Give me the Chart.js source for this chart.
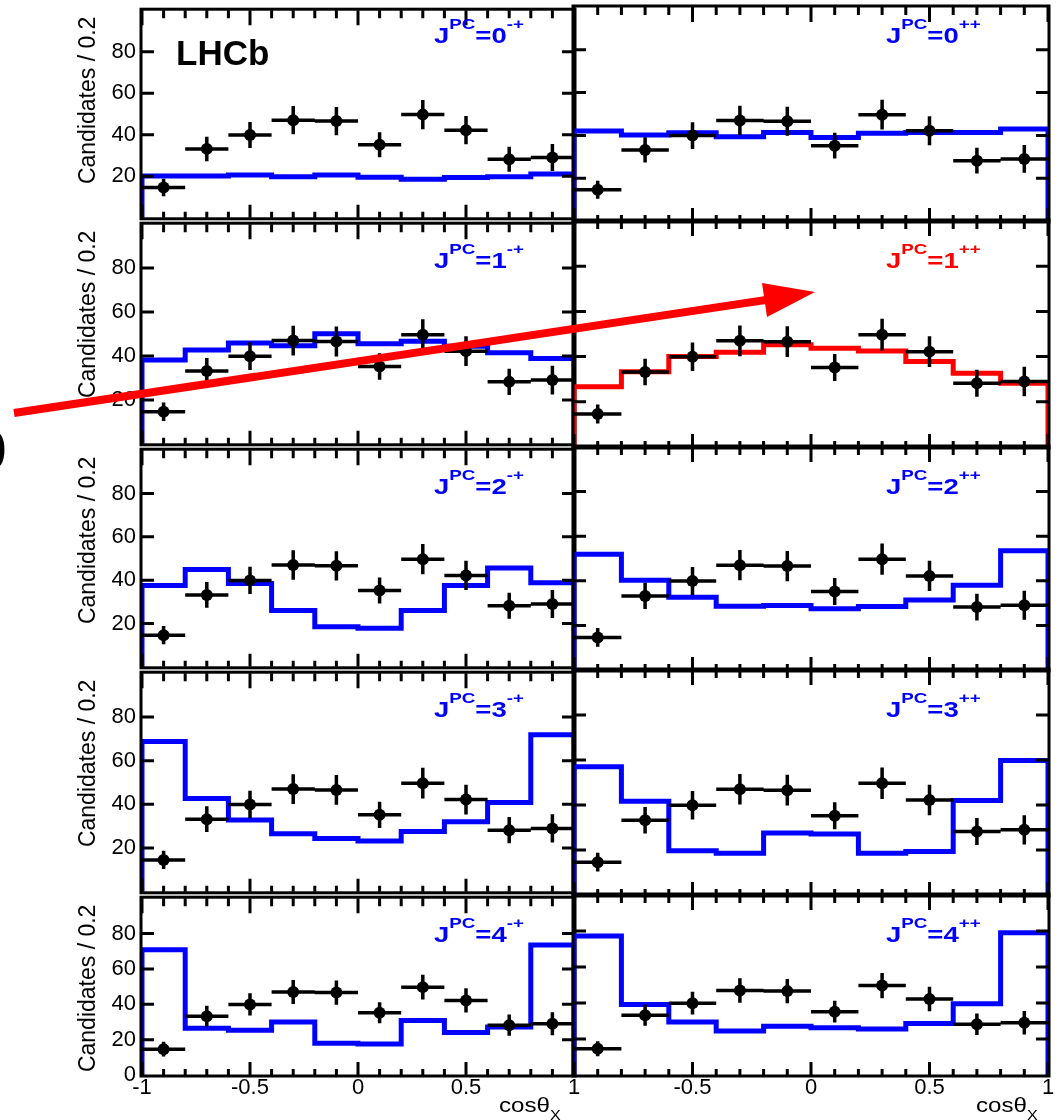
<!DOCTYPE html>
<html>
<head>
<meta charset="utf-8">
<script src="https://cdn.jsdelivr.net/npm/chart.js@4.4.1/dist/chart.umd.min.js"></script>
<style>
  html, body { margin: 0; padding: 0; background: #fff; overflow: hidden; }
  #page { position: relative; width: 1060px; height: 1120px; overflow: hidden; font-family: "Liberation Sans", Arial, sans-serif; }
  #page canvas { position: absolute; }
  .jpc { position: absolute; font-weight: bold; font-size: 22px; line-height: 22px; white-space: nowrap; transform: scaleX(1.25); transform-origin: 0 0; }
  .jpc sup { font-size: 15px; line-height: 0; vertical-align: baseline; position: relative; top: -14px; }
  .lhcb { position: absolute; left: 176px; top: 35px; font-weight: bold; font-size: 35px; line-height: 35px; }
  .xtitle { position: absolute; top: 1094px; font-size: 21px; line-height: 21px; white-space: nowrap; transform: scaleX(1.15); transform-origin: 0 0; }
  .xtitle sub { font-size: 14px; line-height: 0; vertical-align: baseline; position: relative; top: 8px; }
  .cut { position: absolute; left: -24px; top: 423px; font-size: 55px; line-height: 55px; }
  svg { position: absolute; left: 0; top: 0; }
</style>
</head>
<body>
<div id="page"></div>
<script>
// cos(theta_X) binning and the data points (same in every panel)
const binEdges = [-1, -0.8, -0.6, -0.4, -0.2, 0, 0.2, 0.4, 0.6, 0.8, 1];
const binCenters = [-0.9, -0.7, -0.5, -0.3, -0.1, 0.1, 0.3, 0.5, 0.7, 0.9];
const dataCounts = [14.6, 33.2, 39.9, 47.0, 46.6, 35.2, 49.7, 42.2, 28.2, 29.0];
const dataErrors = [4.2, 5.9, 6.3, 6.8, 6.8, 6.0, 7.0, 6.8, 6.0, 6.5];

// expected distributions for each J^PC hypothesis
const jpc0mp = [20.1, 20.1, 20.6, 19.8, 20.6, 19.5, 18.6, 19.4, 19.8, 21.1];
const jpc0pp = [42.0, 40.2, 41.2, 39.4, 41.4, 39.0, 41.0, 41.4, 41.4, 43.0];
const jpc1mp = [38.2, 42.7, 45.9, 44.7, 50.1, 45.6, 46.7, 44.4, 41.5, 38.8];
const jpc1pp = [26.7, 33.3, 40.0, 41.9, 45.2, 43.7, 42.5, 37.8, 32.6, 28.2];
const jpc2mp = [37.5, 44.9, 38.5, 26.0, 18.5, 17.8, 26.0, 37.5, 45.6, 38.8];
const jpc2pp = [51.9, 40.2, 32.6, 28.6, 28.9, 27.5, 28.5, 31.4, 38.0, 53.5];
const jpc3mp = [68.7, 42.7, 32.8, 26.6, 24.4, 23.2, 27.6, 32.0, 40.8, 71.9];
const jpc3pp = [57.0, 41.7, 19.7, 18.6, 27.6, 27.1, 18.6, 19.3, 42.0, 59.8];
const jpc4mp = [70.8, 26.4, 25.3, 30.0, 17.9, 17.6, 30.8, 24.0, 27.1, 73.5];
const jpc4pp = [77.2, 39.2, 29.5, 24.5, 27.1, 26.3, 25.5, 28.6, 39.6, 79.0];

// axis ticks
const xLabelTicks = [-1, -0.5, 0, 0.5, 1];
const xMinorTicks = [-1, -0.9, -0.8, -0.7, -0.6, -0.5, -0.4, -0.3, -0.2, -0.1, 0, 0.1, 0.2, 0.3, 0.4, 0.5, 0.6, 0.7, 0.8, 0.9, 1];
const yTicks = [20, 40, 60, 80];

const BLUE = "#0000ff";
const RED = "#ff0000";

const panels = [
  { row: 0, col: 0, spin: "0", pc: "-+", model: jpc0mp, color: BLUE },
  { row: 0, col: 1, spin: "0", pc: "++", model: jpc0pp, color: BLUE },
  { row: 1, col: 0, spin: "1", pc: "-+", model: jpc1mp, color: BLUE },
  { row: 1, col: 1, spin: "1", pc: "++", model: jpc1pp, color: RED },
  { row: 2, col: 0, spin: "2", pc: "-+", model: jpc2mp, color: BLUE },
  { row: 2, col: 1, spin: "2", pc: "++", model: jpc2pp, color: BLUE },
  { row: 3, col: 0, spin: "3", pc: "-+", model: jpc3mp, color: BLUE },
  { row: 3, col: 1, spin: "3", pc: "++", model: jpc3pp, color: BLUE },
  { row: 4, col: 0, spin: "4", pc: "-+", model: jpc4mp, color: BLUE },
  { row: 4, col: 1, spin: "4", pc: "++", model: jpc4pp, color: BLUE },
];

// frame positions on the page
const colX = [[142, 574], [574, 1048]];
const rowY = [[7, 221], [221, 447], [447, 670], [670, 895], [895, 1075]];
const labelX = [434, 886];
const LAST = 4;

Chart.defaults.font.family = '"Liberation Sans", Arial, sans-serif';
Chart.defaults.color = "#000";

// ROOT style frame with inward ticks on all four sides
const frameTicks = {
  id: "frameTicks",
  afterDatasetsDraw(chart) {
    const { ctx, chartArea: a, scales: { x, y } } = chart;
    ctx.save();
    ctx.strokeStyle = "#000";
    ctx.lineWidth = 3;
    ctx.beginPath();
    xMinorTicks.forEach((v) => {
      const px = x.getPixelForValue(v);
      const major = xLabelTicks.includes(v);
      ctx.moveTo(px, a.top);
      ctx.lineTo(px, a.top + (major ? 15 : 8));
      ctx.moveTo(px, a.bottom);
      ctx.lineTo(px, a.bottom - (major ? 13 : 6));
    });
    yTicks.forEach((v) => {
      const py = y.getPixelForValue(v);
      ctx.moveTo(a.left, py);
      ctx.lineTo(a.left + 12, py);
      ctx.moveTo(a.right, py);
      ctx.lineTo(a.right - 12, py);
    });
    ctx.stroke();
    ctx.strokeRect(a.left - 1, a.top - 1, a.width + 2, a.height + 2);
    ctx.restore();
  },
};

function stepPoints(values) {
  const last = binEdges.length - 1;
  const pts = [{ x: binEdges[0], y: 0 }];
  values.forEach((v, i) => pts.push({ x: binEdges[i], y: v }));
  pts.push({ x: binEdges[last], y: values[values.length - 1] });
  pts.push({ x: binEdges[last], y: 0 });
  return pts;
}

const hBars = [];
const vBars = [];
const marks = [];
binCenters.forEach((c, i) => {
  hBars.push({ x: binEdges[i], y: dataCounts[i] }, { x: binEdges[i + 1], y: dataCounts[i] }, { x: binEdges[i + 1], y: null });
  vBars.push({ x: c, y: dataCounts[i] - dataErrors[i] }, { x: c, y: dataCounts[i] + dataErrors[i] }, { x: c, y: null });
  marks.push({ x: c, y: dataCounts[i] });
});

const page = document.getElementById("page");

panels.forEach((p) => {
  const [x0, x1] = colX[p.col];
  const [y0, y1] = rowY[p.row];
  const showY = p.col === 0;
  const showX = p.row === LAST;
  const padL = showY ? 82 : 16;
  const padR = showY ? 16 : 12;
  const padB = showX ? 45 : 16;

  const canvas = document.createElement("canvas");
  canvas.width = padL + (x1 - x0) + padR;
  canvas.height = 16 + (y1 - y0) + padB;
  canvas.style.left = x0 - padL + "px";
  canvas.style.top = y0 - 16 + "px";
  page.appendChild(canvas);

  new Chart(canvas.getContext("2d"), {
    type: "line",
    data: {
      datasets: [
        { data: marks, showLine: false, pointRadius: 6, pointBackgroundColor: "#000", pointBorderWidth: 0 },
        { data: vBars, borderColor: "#000", borderWidth: 3.5, pointRadius: 0, spanGaps: false },
        { data: hBars, borderColor: "#000", borderWidth: 3.5, pointRadius: 0, spanGaps: false },
        { data: stepPoints(p.model), borderColor: p.color, borderWidth: 5, pointRadius: 0, stepped: true },
      ],
    },
    options: {
      responsive: false,
      animation: false,
      events: [],
      layout: { padding: { left: showY ? 0 : 16, right: padR, top: 16, bottom: showX ? 0 : 16 } },
      plugins: { legend: { display: false }, tooltip: { enabled: false } },
      scales: {
        x: {
          type: "linear",
          min: -1,
          max: 1,
          display: showX,
          grid: { display: false, drawTicks: false },
          border: { display: false },
          ticks: {
            stepSize: 0.5,
            autoSkip: false,
            maxRotation: 0,
            padding: 0,
            font: { size: 22 },
            callback: (v) => (p.col === 1 && v === -1 ? "" : String(v)),
          },
          afterFit: (s) => { if (showX) s.height = 45; },
        },
        y: {
          min: 0,
          max: 100,
          display: showY,
          grid: { display: false, drawTicks: false },
          border: { display: false },
          ticks: {
            stepSize: 20,
            padding: 6,
            font: { size: 22 },
            callback: (v) => (v === 100 || (v === 0 && !showX) ? "" : String(v)),
          },
          title: {
            display: true,
            text: "Candidates / 0.2 ",
            align: "end",
            font: { size: 23 },
            padding: { top: 15, bottom: 0 },
          },
          afterFit: (s) => { if (showY) s.width = 82; },
        },
      },
    },
    plugins: [frameTicks],
  });

  const lab = document.createElement("div");
  lab.className = "jpc";
  lab.style.color = p.color;
  lab.style.left = labelX[p.col] + "px";
  lab.style.top = y0 + (p.row === 0 ? 18 : 29) + "px";
  lab.innerHTML = "J<sup>PC</sup>=" + p.spin + "<sup>" + p.pc + "</sup>";
  page.appendChild(lab);
});

[499, 976].forEach((left) => {
  const t = document.createElement("div");
  t.className = "xtitle";
  t.style.left = left + "px";
  t.innerHTML = "cos\u03b8<sub>X</sub>";
  page.appendChild(t);
});

const lhcb = document.createElement("div");
lhcb.className = "lhcb";
lhcb.textContent = "LHCb";
page.appendChild(lhcb);

const cut = document.createElement("div");
cut.className = "cut";
cut.textContent = "0";
page.appendChild(cut);

// red annotation arrow drawn over the panels
page.insertAdjacentHTML("beforeend",
  '<svg width="1060" height="1120">' +
  '<line x1="14" y1="413" x2="766" y2="300" stroke="#ff0000" stroke-width="8"/>' +
  '<polygon points="815,292 762,283 767,317" fill="#ff0000"/>' +
  "</svg>");
</script>
</body>
</html>
